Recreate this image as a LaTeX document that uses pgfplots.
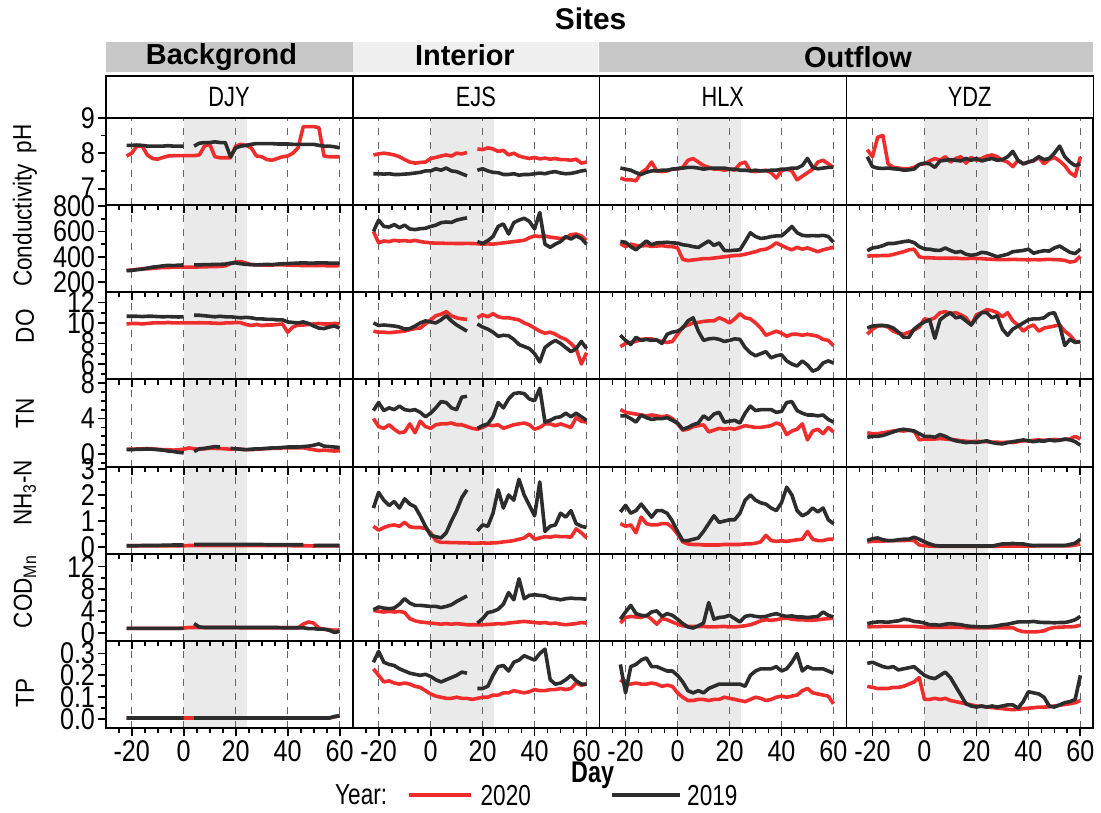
\documentclass[border=0pt]{standalone}
\usepackage{pgfplots}
\pgfplotsset{compat=1.18}
\usepackage{pgfplotstable}
\usepackage{fontspec}
\setmainfont{Liberation Sans}
\newfontfamily\narrow{Liberation Sans}[FakeStretch=0.78]
\newfontfamily\ticknarrow{Liberation Sans}[FakeStretch=0.84]
\newfontfamily\ylabfont{Liberation Sans}[FakeStretch=0.87]
\definecolor{r20}{RGB}{240,45,45}
\definecolor{k19}{RGB}{45,45,45}
\definecolor{band}{RGB}{234,234,234}
\definecolor{stripA}{RGB}{200,200,200}
\definecolor{stripB}{RGB}{240,240,240}

\pgfplotstableread{
x Da Db Ea Eb Ha Hb Ya Yb
-22 7.92 8.22 7.95 7.42 7.3 7.58 8.1 7.9
-20 8.0 8.22 7.98 7.42 7.25 7.55 7.9 7.62
-18 8.2 8.23 8.0 7.41 7.25 7.52 8.45 7.58
-16 8.2 8.22 7.98 7.42 7.22 7.45 8.5 7.57
-14 7.95 8.2 7.95 7.4 7.45 7.4 7.7 7.58
-12 7.85 8.2 7.9 7.4 7.55 7.46 7.6 7.56
-10 7.83 8.2 7.82 7.41 7.75 7.5 7.58 7.55
-8 7.88 8.2 7.75 7.42 7.5 7.5 7.56 7.52
-6 7.92 8.21 7.72 7.44 7.48 7.52 7.56 7.53
-4 7.93 8.2 7.74 7.46 7.5 7.52 7.6 7.55
-2 7.93 8.2 7.75 7.5 7.55 7.55 7.68 7.68
0 7.93 8.2 7.85 7.5 7.55 7.57 7.7 7.72
2 7.93 nan 7.88 7.56 7.6 7.58 7.78 7.7
4 7.93 8.2 7.92 7.52 7.8 7.6 7.85 7.6
6 7.95 8.28 7.95 7.58 7.85 7.6 7.8 7.78
8 8.2 8.3 7.92 7.5 7.75 7.58 7.9 7.8
10 8.25 8.3 8.0 7.48 7.65 7.55 7.75 7.82
12 7.9 8.32 7.98 7.42 7.6 7.57 7.85 7.8
14 7.87 8.3 8.02 7.36 7.55 7.58 7.9 7.78
16 7.87 8.3 nan nan 7.55 7.58 7.72 7.85
18 7.87 7.9 8.12 7.52 7.52 7.58 7.88 7.8
20 8.2 8.15 8.1 7.56 7.55 7.55 7.8 7.85
22 8.25 8.2 8.15 7.5 7.52 7.55 7.85 7.78
24 8.22 8.22 8.12 7.46 7.7 7.52 7.92 7.82
26 8.15 8.25 8.05 7.45 7.75 7.52 7.95 7.85
28 7.92 8.27 8.08 7.4 7.5 7.5 7.9 7.8
30 7.9 8.27 7.95 7.4 7.48 7.52 7.8 7.82
32 7.82 8.27 8.0 7.42 7.5 7.5 7.75 7.9
34 7.8 8.27 7.92 7.38 7.52 7.5 7.62 8.05
36 7.85 8.26 7.88 7.4 7.45 7.52 7.8 7.8
38 7.9 8.26 7.85 7.4 7.3 7.52 7.7 7.7
40 7.92 8.26 7.88 7.42 7.5 7.55 7.75 7.75
42 8.0 8.25 7.84 7.44 7.55 7.55 7.78 7.8
44 8.15 8.25 7.86 7.42 7.5 7.58 7.88 7.9
46 8.75 8.25 7.83 7.46 7.25 7.58 7.7 7.82
48 8.75 8.25 7.85 7.48 7.35 7.65 7.82 7.85
50 8.75 8.25 7.82 7.44 7.45 7.85 7.88 8.0
52 8.72 8.22 7.82 7.42 7.55 7.6 7.78 8.2
54 7.92 8.2 7.8 7.43 7.75 7.56 7.65 7.9
56 7.9 8.2 7.83 7.46 7.8 7.58 7.45 7.75
58 7.9 8.18 7.72 7.5 7.7 7.6 7.35 7.65
60 7.9 8.15 7.75 7.52 7.6 7.6 7.9 7.7
}\tpH

\pgfplotstableread{
x Da Db Ea Eb Ha Hb Ya Yb
-22 292 290 600 600 505 520 405 448
-20 295 292 510 690 480 515 408 470
-18 300 298 525 640 500 480 408 476
-16 305 302 520 635 490 455 410 488
-14 305 310 530 655 485 490 410 505
-12 308 318 525 630 490 525 418 505
-10 312 322 528 650 482 495 430 512
-8 315 328 522 620 485 510 440 520
-6 315 332 530 615 488 512 455 525
-4 318 330 520 622 482 515 460 512
-2 318 334 515 625 480 510 400 480
0 318 335 510 640 470 508 392 462
2 318 nan 508 650 380 495 392 460
4 318 336 508 670 370 490 390 452
6 320 336 506 675 375 480 388 450
8 320 338 506 672 380 474 390 470
10 322 338 505 690 385 500 388 450
12 322 340 505 700 385 525 390 435
14 325 340 506 708 390 490 386 442
16 328 342 505 nan 395 510 385 420
18 345 350 503 520 400 450 388 412
20 360 352 500 505 405 448 386 418
22 362 345 502 528 410 452 385 435
24 350 340 500 560 412 455 382 430
26 338 338 505 640 420 520 380 415
28 336 336 510 660 430 590 378 400
30 335 338 515 580 440 560 378 410
32 335 340 520 670 455 545 378 420
34 335 338 525 690 460 550 380 440
36 336 342 530 705 480 560 378 445
38 336 345 550 680 510 565 378 450
40 335 346 565 620 490 565 376 460
42 332 348 560 750 470 600 378 428
44 332 350 565 500 455 640 376 440
46 330 352 555 475 475 590 378 448
48 330 350 550 500 460 570 380 445
50 330 350 545 520 470 565 378 470
52 330 352 550 560 455 568 376 485
54 330 352 575 540 440 565 372 460
56 328 350 580 565 455 570 358 435
58 328 350 565 545 465 560 365 425
60 330 348 530 500 475 515 405 460
}\tCond

\pgfplotstableread{
x Da Db Ea Eb Ha Hb Ya Yb
-22 9.9 10.65 9.2 10.0 7.7 8.8 8.9 9.5
-20 9.95 10.65 9.1 9.75 8.0 8.3 9.4 9.7
-18 9.95 10.65 9.1 9.8 8.1 7.9 9.7 9.75
-16 9.9 10.62 9.05 9.75 8.2 8.6 9.75 9.75
-14 9.95 10.65 9.1 9.7 8.4 8.3 9.6 9.7
-12 10.0 10.65 9.15 9.6 8.45 8.4 9.2 9.5
-10 10.0 10.62 9.2 9.4 8.45 8.3 9.0 9.1
-8 10.0 10.6 9.35 9.45 8.3 8.35 8.9 8.6
-6 10.05 10.62 9.45 9.7 8.2 8.0 9.1 8.6
-4 10.0 10.6 9.5 10.0 8.1 8.9 9.3 9.4
-2 10.0 10.58 9.9 10.2 8.2 9.1 9.6 9.8
0 10.0 10.6 10.3 10.1 8.9 9.2 10.4 10.1
2 10.0 nan 10.7 10.0 9.6 9.5 10.3 10.3
4 10.0 10.75 10.85 10.3 9.8 10.2 10.5 8.5
6 10.02 10.75 11.1 10.7 10.0 10.5 11.0 10.3
8 10.0 10.7 10.7 10.2 10.05 9.2 11.1 10.7
10 10.0 10.65 10.5 9.8 10.15 8.3 10.9 11.0
12 9.98 10.6 10.4 9.5 10.2 8.45 11.0 10.5
14 9.95 10.65 10.35 9.2 10.2 8.5 10.8 10.6
16 10.0 10.6 nan nan 10.5 8.4 10.5 10.2
18 10.0 10.6 10.5 9.9 10.3 8.2 9.8 9.8
20 10.05 10.55 10.8 9.6 10.0 8.3 10.8 10.5
22 10.02 10.5 10.6 9.4 10.4 8.45 11.0 11.0
24 9.85 10.55 10.9 9.1 10.9 8.4 11.3 11.0
26 9.75 10.5 10.6 8.7 10.5 7.6 11.2 10.5
28 9.85 10.4 10.5 8.8 10.4 7.1 11.0 10.7
30 9.75 10.4 10.5 8.75 10.0 6.8 10.6 9.4
32 9.8 10.35 10.4 8.4 9.5 7.0 11.0 8.8
34 9.8 10.35 10.3 7.9 8.8 7.2 10.2 9.4
36 9.85 10.3 10.0 7.7 9.0 6.6 9.8 9.7
38 9.9 10.3 9.8 7.5 9.2 6.8 9.2 10.0
40 9.1 10.1 9.5 7.0 9.0 6.9 9.6 10.3
42 9.6 10.05 9.2 6.2 8.7 6.3 9.8 10.4
44 9.8 10.0 9.0 7.6 8.9 6.0 9.2 10.4
46 9.8 10.1 9.1 8.0 8.9 5.8 9.5 10.5
48 9.85 9.95 8.9 8.3 8.8 6.3 9.6 10.9
50 9.9 9.7 8.6 8.0 8.9 5.9 9.7 11.0
52 9.95 9.5 8.4 7.6 8.8 5.3 9.8 9.8
54 9.9 9.45 8.0 7.2 8.7 5.5 9.2 7.8
56 9.9 9.6 7.5 7.5 8.4 6.1 8.8 8.4
58 9.95 9.7 6.0 8.2 8.3 6.3 8.2 8.1
60 9.9 9.5 7.1 7.5 7.8 6.1 8.1 8.2
}\tDO

\pgfplotstableread{
x Da Db Ea Eb Ha Hb Ya Yb
-22 0.55 0.5 4.0 4.9 5.0 4.3 2.4 1.9
-20 0.55 0.5 3.1 5.8 4.7 4.3 2.3 2.0
-18 0.58 0.55 2.9 4.9 4.6 4.0 2.3 2.0
-16 0.6 0.55 3.3 5.2 4.5 3.6 2.4 2.1
-14 0.62 0.58 2.8 5.0 4.4 4.4 2.5 2.3
-12 0.6 0.55 2.4 5.4 4.3 4.1 2.6 2.5
-10 0.55 0.5 2.5 5.0 4.4 3.9 2.65 2.7
-8 0.5 0.45 3.4 4.9 4.3 4.0 2.6 2.8
-6 0.5 0.35 2.4 5.0 4.2 4.0 2.7 2.7
-4 0.45 0.3 3.7 4.7 4.3 4.1 2.6 2.6
-2 0.5 0.2 3.1 4.2 4.0 3.8 1.6 2.3
0 0.55 0.15 2.9 4.6 3.4 3.5 1.7 2.0
2 0.7 nan 3.3 5.2 2.7 2.8 1.7 2.0
4 0.6 0.3 3.4 5.9 2.8 3.0 1.7 1.9
6 0.55 0.6 3.4 5.8 3.1 3.3 1.75 2.2
8 0.6 0.65 3.5 5.2 3.2 3.5 1.7 2.0
10 0.65 0.75 3.3 5.0 3.3 4.3 1.65 1.7
12 0.65 0.85 3.3 6.4 2.5 3.9 1.6 1.5
14 0.62 0.8 3.1 6.5 2.7 4.5 1.5 1.4
16 0.6 nan 2.9 nan 2.9 4.7 1.45 1.3
18 0.55 0.65 2.8 2.9 2.8 3.6 1.4 1.35
20 0.6 0.6 3.0 3.2 2.9 3.7 1.45 1.3
22 0.55 0.55 3.3 3.4 2.8 3.8 1.4 1.4
24 0.5 0.5 3.2 4.2 3.0 3.5 1.4 1.5
26 0.5 0.55 3.3 5.8 3.2 4.6 1.35 1.3
28 0.55 0.6 2.9 5.2 3.1 5.4 1.35 1.2
30 0.6 0.6 3.1 6.2 3.0 4.9 1.3 1.15
32 0.62 0.65 3.3 6.8 3.0 5.0 1.35 1.3
34 0.65 0.7 3.4 6.9 3.1 5.0 1.3 1.4
36 0.65 0.7 3.5 6.8 3.2 5.0 1.4 1.5
38 0.7 0.75 3.3 6.2 3.5 4.7 1.5 1.6
40 0.7 0.8 2.8 6.0 3.3 4.8 1.5 1.5
42 0.72 0.8 3.0 7.4 2.2 5.8 1.55 1.4
44 0.7 0.8 3.4 3.6 2.6 5.9 1.6 1.5
46 0.72 0.85 3.4 3.8 2.8 4.9 1.55 1.45
48 0.6 0.9 3.2 4.1 3.4 4.6 1.6 1.6
50 0.5 1.0 3.4 4.2 1.6 4.4 1.65 1.5
52 0.4 1.15 3.2 4.6 2.6 4.4 1.6 1.55
54 0.45 0.9 3.0 4.2 2.8 4.3 1.65 1.7
56 0.4 0.85 4.1 4.6 2.3 4.4 1.7 1.6
58 0.35 0.8 3.7 4.2 3.0 3.9 2.0 1.4
60 0.4 0.75 3.6 3.8 2.5 3.6 1.7 1.0
}\tTN

\pgfplotstableread{
x Da Db Ea Eb Ha Hb Ya Yb
-22 0.05 0.05 0.8 1.5 0.9 1.35 0.2 0.25
-20 0.05 0.05 0.65 2.1 0.8 1.6 0.22 0.32
-18 0.05 0.05 0.75 1.8 0.85 1.3 0.22 0.35
-16 0.05 0.06 0.82 1.6 0.55 1.4 0.23 0.28
-14 0.05 0.06 0.85 1.75 1.15 1.65 0.24 0.25
-12 0.05 0.06 0.8 1.5 0.9 1.4 0.25 0.25
-10 0.05 0.06 0.95 1.85 0.85 1.15 0.25 0.28
-8 0.05 0.07 0.78 1.65 0.85 1.4 0.25 0.3
-6 0.05 0.07 0.75 1.55 0.9 1.4 0.26 0.3
-4 0.05 0.08 0.75 1.2 0.9 1.3 0.25 0.38
-2 0.05 0.08 0.72 0.8 0.75 1.0 0.08 0.3
0 0.05 0.08 0.55 0.45 0.5 0.6 0.05 0.2
2 0.06 nan 0.25 0.4 0.2 0.25 0.04 0.12
4 0.06 0.1 0.18 0.35 0.12 0.25 0.03 0.06
6 0.06 0.1 0.18 0.55 0.1 0.3 0.03 0.04
8 0.06 0.1 0.17 1.0 0.1 0.35 0.03 0.04
10 0.06 0.1 0.17 1.4 0.08 0.6 0.03 0.04
12 0.06 0.1 0.16 1.9 0.08 0.9 0.03 0.04
14 0.06 0.1 0.16 2.2 0.08 1.2 0.03 0.04
16 0.06 0.1 0.15 nan 0.08 0.95 0.03 0.04
18 0.06 0.1 0.15 0.62 0.1 1.0 0.03 0.04
20 0.06 0.1 0.16 0.85 0.1 1.05 0.03 0.04
22 0.06 0.1 0.15 0.8 0.1 1.05 0.03 0.04
24 0.06 0.1 0.16 1.3 0.1 1.3 0.03 0.04
26 0.06 0.1 0.17 2.2 0.12 1.8 0.03 0.04
28 0.06 0.1 0.2 1.5 0.12 2.0 0.03 0.08
30 0.06 0.1 0.22 2.0 0.15 1.8 0.04 0.12
32 0.06 0.09 0.25 1.8 0.2 1.7 0.04 0.12
34 0.06 0.09 0.3 2.6 0.45 1.65 0.04 0.14
36 0.06 0.09 0.35 2.0 0.25 1.5 0.04 0.12
38 0.06 0.09 0.5 1.6 0.22 1.4 0.04 0.12
40 0.06 0.09 0.3 1.2 0.24 1.7 0.04 0.08
42 0.05 0.09 0.35 2.5 0.22 2.3 0.04 0.06
44 0.05 0.09 0.4 0.6 0.25 2.0 0.05 0.06
46 0.05 0.09 0.38 0.8 0.28 1.4 0.05 0.06
48 0.05 nan 0.42 0.85 0.3 1.2 0.05 0.06
50 0.04 0.06 0.4 1.3 0.6 1.3 0.05 0.06
52 0.05 0.06 0.4 1.15 0.3 1.5 0.05 0.06
54 0.05 0.06 0.38 1.4 0.25 1.35 0.05 0.06
56 0.05 0.06 0.7 0.9 0.25 1.5 0.05 0.1
58 0.05 0.06 0.55 0.8 0.3 1.05 0.08 0.15
60 0.05 0.06 0.35 0.75 0.3 0.9 0.12 0.3
}\tNH

\pgfplotstableread{
x Da Db Ea Eb Ha Hb Ya Yb
-22 0.85 0.85 4.1 4.2 1.8 2.5 1.1 1.7
-20 0.85 0.85 3.9 4.7 2.8 3.8 1.15 1.9
-18 0.85 0.85 3.8 4.5 3.0 5.0 1.15 2.0
-16 0.85 0.85 3.9 4.4 2.9 3.5 1.2 2.0
-14 0.85 0.85 3.8 4.5 2.8 3.2 1.2 1.95
-12 0.85 0.85 3.9 5.2 3.2 3.1 1.2 2.1
-10 0.85 0.85 3.7 6.2 2.5 3.8 1.2 2.2
-8 0.85 0.85 2.6 5.4 1.6 4.0 1.2 2.5
-6 0.85 0.85 2.2 5.0 2.6 3.0 1.2 2.4
-4 0.85 0.85 2.0 5.0 2.4 3.5 1.2 2.1
-2 0.85 0.85 1.9 4.9 2.0 3.2 1.1 2.0
0 0.9 0.85 1.8 4.8 1.6 2.5 1.05 1.8
2 1.0 nan 1.7 4.8 1.3 1.7 1.05 1.5
4 1.0 1.7 1.6 4.6 1.2 1.1 1.05 1.5
6 1.0 1.1 1.7 4.8 1.2 0.9 1.05 1.4
8 1.0 1.0 1.6 5.1 1.15 1.3 1.05 1.6
10 1.0 1.0 1.7 5.7 1.2 1.8 1.05 1.7
12 1.0 1.0 1.6 6.2 1.1 5.5 1.05 1.6
14 1.0 1.0 1.5 6.7 1.1 2.5 1.05 1.5
16 1.0 1.0 1.5 nan 1.15 2.8 0.95 1.3
18 1.0 1.0 1.5 1.8 1.2 2.9 0.95 1.2
20 1.0 1.0 1.5 2.6 1.1 3.2 0.95 1.15
22 0.95 1.0 1.55 3.7 1.1 2.6 0.95 1.1
24 0.95 1.0 1.6 3.9 1.2 2.0 0.95 1.1
26 0.95 1.0 1.7 4.3 1.3 3.0 0.95 1.2
28 0.95 1.0 1.65 5.2 1.5 3.2 0.95 1.3
30 0.95 1.0 1.8 7.3 1.8 3.0 0.95 1.5
32 0.95 1.0 1.9 6.0 2.2 2.9 0.95 1.6
34 0.95 1.0 2.0 9.8 2.4 3.0 0.95 1.8
36 0.95 1.0 2.1 6.2 2.3 3.3 0.5 2.0
38 0.95 0.95 2.0 6.8 2.4 3.5 0.25 2.0
40 0.95 0.95 1.9 6.9 2.6 3.2 0.2 2.0
42 0.95 0.95 1.8 6.8 2.7 3.0 0.2 2.1
44 0.95 0.95 1.9 6.7 2.5 3.1 0.25 1.95
46 1.6 0.95 1.7 6.3 2.4 2.9 0.4 1.9
48 2.0 0.8 1.8 6.2 2.4 2.9 0.8 1.9
50 1.8 0.8 1.6 6.0 2.3 2.8 1.0 1.85
52 0.9 0.7 1.5 6.2 2.3 2.9 1.05 1.9
54 0.7 0.7 1.6 6.3 2.4 3.0 1.1 1.9
56 0.6 0.5 1.7 6.2 2.5 3.8 1.1 2.1
58 0.5 0.1 1.9 6.2 2.6 3.2 1.2 2.4
60 0.55 0.3 1.8 6.1 2.7 2.9 1.4 3.0
}\tCOD

\pgfplotstableread{
x Da Db Ea Eb Ha Hb Ya Yb
-22 0.005 0.005 0.23 0.26 0.18 0.25 0.15 0.255
-20 0.005 0.005 0.2 0.31 0.16 0.12 0.145 0.26
-18 0.005 0.005 0.17 0.26 0.16 0.24 0.14 0.25
-16 0.005 0.005 0.175 0.25 0.165 0.25 0.14 0.24
-14 0.005 0.005 0.165 0.245 0.16 0.27 0.14 0.235
-12 0.005 0.005 0.16 0.23 0.16 0.28 0.145 0.24
-10 0.005 0.005 0.165 0.22 0.165 0.24 0.145 0.225
-8 0.005 0.005 0.16 0.21 0.16 0.24 0.15 0.23
-6 0.005 0.005 0.15 0.205 0.15 0.23 0.16 0.235
-4 0.005 0.005 0.145 0.2 0.155 0.22 0.17 0.24
-2 0.005 0.005 0.13 0.205 0.15 0.22 0.19 0.22
0 0.005 0.005 0.115 0.195 0.12 0.2 0.09 0.2
2 0.005 nan 0.105 0.18 0.1 0.17 0.09 0.19
4 0.005 0.005 0.1 0.17 0.085 0.13 0.095 0.185
6 0.005 0.005 0.095 0.18 0.085 0.12 0.09 0.2
8 0.005 0.005 0.095 0.19 0.09 0.13 0.095 0.215
10 0.005 0.005 0.1 0.2 0.09 0.12 0.085 0.19
12 0.005 0.005 0.095 0.215 0.085 0.14 0.08 0.15
14 0.005 0.005 0.095 0.21 0.09 0.15 0.075 0.11
16 0.005 0.005 0.09 nan 0.09 0.16 0.07 0.07
18 0.005 0.005 0.095 0.14 0.1 0.16 0.065 0.06
20 0.005 0.005 0.1 0.14 0.095 0.16 0.06 0.055
22 0.005 0.005 0.1 0.15 0.09 0.16 0.058 0.06
24 0.005 0.005 0.11 0.2 0.085 0.16 0.055 0.055
26 0.005 0.005 0.11 0.24 0.08 0.15 0.053 0.06
28 0.005 0.005 0.12 0.245 0.09 0.2 0.05 0.055
30 0.005 0.005 0.12 0.22 0.1 0.22 0.048 0.06
32 0.005 0.005 0.13 0.26 0.095 0.23 0.045 0.065
34 0.005 0.005 0.125 0.27 0.085 0.23 0.043 0.065
36 0.005 0.005 0.12 0.29 0.09 0.23 0.045 0.05
38 0.005 0.005 0.125 0.28 0.1 0.24 0.048 0.08
40 0.005 0.005 0.135 0.27 0.105 0.22 0.05 0.125
42 0.005 0.005 0.13 0.3 0.1 0.23 0.052 0.12
44 0.005 0.005 0.13 0.32 0.105 0.26 0.055 0.115
46 0.005 0.005 0.135 0.18 0.11 0.3 0.055 0.1
48 0.005 0.005 0.135 0.16 0.13 0.22 0.056 0.06
50 0.005 0.005 0.14 0.165 0.14 0.24 0.06 0.055
52 0.005 0.005 0.135 0.18 0.12 0.23 0.063 0.065
54 0.005 0.005 0.14 0.2 0.115 0.23 0.067 0.075
56 0.005 0.005 0.165 0.175 0.11 0.23 0.07 0.08
58 0.01 0.012 0.155 0.16 0.105 0.22 0.075 0.09
60 0.015 0.015 0.16 0.16 0.07 0.21 0.085 0.2
}\tTP

\pgfplotsset{
  panel/.style={
    scale only axis, width=123.75pt, height=43.714pt,
    xmin=-30, xmax=65,
    xtick={-20,0,20,40,60},
    minor xtick={-25,-15,-10,-5,5,10,15,25,30,35,45,50,55},
    xticklabels={},
    xtick pos=left, ytick pos=left,
    tick align=outside,
    major tick length=4pt, minor tick length=2.6pt,
    tick style={black, line width=0.9pt},
    axis line style={line width=0.9pt},
    xmajorgrids,
    major grid style={dash pattern=on 3.5pt off 3.5pt, line width=0.6pt, black!60},
    unbounded coords=jump,
    set layers,
    tick label style={font=\ticknarrow\fontsize{15}{15}\selectfont},
    yticklabel style={inner xsep=1.2pt},
    xticklabel style={inner ysep=2pt},
  },
  noyt/.style={ytick=\empty},
  xlab/.style={xticklabels={-20,0,20,40,60}},
  rowpH/.style={ymin=6.54, ymax=9},
  ytpH/.style={ytick={7,8,9}, yticklabels={7,8,9}, minor ytick={7.5,8.5}},
  rowCo/.style={ymin=120, ymax=810},
  ytCo/.style={ytick={200,400,600,800}, yticklabels={200,400,600,800}, minor ytick={300,500,700}},
  rowDO/.style={ymin=4.5, ymax=13},
  ytDO/.style={ytick={6,8,10,12}, yticklabels={6,8,10,12}, minor ytick={5,7,9,11}},
  rowTN/.style={ymin=-1.4, ymax=8.4},
  ytTN/.style={ytick={0,4,8}, yticklabels={0,4,8}, minor ytick={-1,1,2,3,5,6,7}},
  rowNH/.style={ymin=-0.26, ymax=3.09},
  ytNH/.style={ytick={0,1,2,3}, yticklabels={0,1,2,3}, minor ytick={0.5,1.5,2.5}},
  rowCD/.style={ymin=-1.45, ymax=14.3},
  ytCD/.style={ytick={0,4,8,12}, yticklabels={0,4,8,12}, minor ytick={2,6,10}},
  rowTP/.style={ymin=-0.042, ymax=0.357},
  ytTP/.style={ytick={0,0.1,0.2,0.3}, yticklabels={0.0,0.1,0.2,0.3}, minor ytick={0.05,0.15,0.25}},
}

% #1 col, #2 row, #3 options, #4 table, #5 site, #6 band low, #7 band high
\newcommand{\panel}[7]{%
  \begin{axis}[panel, #3, at={({53pt+123.75pt*#1},{-59pt-43.714pt*#2})}, anchor=north west]
    \addplot[on layer=axis background, fill=band, draw=none, forget plot]
      coordinates {(0,#6) (24.5,#6) (24.5,#7) (0,#7)};
    \addplot[r20, line width=1.8pt, line join=round] table[x=x, y=#5a] {#4};
    \addplot[k19, line width=1.8pt, line join=round] table[x=x, y=#5b] {#4};
  \end{axis}}

\begin{document}
\begin{tikzpicture}
\path (0pt,0pt) rectangle (550.5pt,-406pt);

\panel{0}{0}{rowpH,ytpH}{\tpH}{D}{6.54}{9}
\panel{1}{0}{rowpH,noyt}{\tpH}{E}{6.54}{9}
\panel{2}{0}{rowpH,noyt}{\tpH}{H}{6.54}{9}
\panel{3}{0}{rowpH,noyt}{\tpH}{Y}{6.54}{9}

\panel{0}{1}{rowCo,ytCo}{\tCond}{D}{120}{810}
\panel{1}{1}{rowCo,noyt}{\tCond}{E}{120}{810}
\panel{2}{1}{rowCo,noyt}{\tCond}{H}{120}{810}
\panel{3}{1}{rowCo,noyt}{\tCond}{Y}{120}{810}

\panel{0}{2}{rowDO,ytDO}{\tDO}{D}{4.5}{13}
\panel{1}{2}{rowDO,noyt}{\tDO}{E}{4.5}{13}
\panel{2}{2}{rowDO,noyt}{\tDO}{H}{4.5}{13}
\panel{3}{2}{rowDO,noyt}{\tDO}{Y}{4.5}{13}

\panel{0}{3}{rowTN,ytTN}{\tTN}{D}{-1.4}{8.4}
\panel{1}{3}{rowTN,noyt}{\tTN}{E}{-1.4}{8.4}
\panel{2}{3}{rowTN,noyt}{\tTN}{H}{-1.4}{8.4}
\panel{3}{3}{rowTN,noyt}{\tTN}{Y}{-1.4}{8.4}

\panel{0}{4}{rowNH,ytNH}{\tNH}{D}{-0.26}{3.09}
\panel{1}{4}{rowNH,noyt}{\tNH}{E}{-0.26}{3.09}
\panel{2}{4}{rowNH,noyt}{\tNH}{H}{-0.26}{3.09}
\panel{3}{4}{rowNH,noyt}{\tNH}{Y}{-0.26}{3.09}

\panel{0}{5}{rowCD,ytCD}{\tCOD}{D}{-1.45}{14.3}
\panel{1}{5}{rowCD,noyt}{\tCOD}{E}{-1.45}{14.3}
\panel{2}{5}{rowCD,noyt}{\tCOD}{H}{-1.45}{14.3}
\panel{3}{5}{rowCD,noyt}{\tCOD}{Y}{-1.45}{14.3}

\panel{0}{6}{rowTP,ytTP,xlab}{\tTP}{D}{-0.042}{0.357}
\panel{1}{6}{rowTP,noyt,xlab}{\tTP}{E}{-0.042}{0.357}
\panel{2}{6}{rowTP,noyt,xlab}{\tTP}{H}{-0.042}{0.357}
\panel{3}{6}{rowTP,noyt,xlab}{\tTP}{Y}{-0.042}{0.357}

\begin{scope}[x=0.5pt, y=-0.5pt]
  \fill[stripA] (106,41.7) rectangle (353.5,71.7);
  \fill[stripB] (353.5,41.7) rectangle (599,71.7);
  \fill[stripA] (600,41.7) rectangle (1096,71.7);
  \node[font=\bfseries\fontsize{15}{15}\selectfont] at (592,19) {Sites};
  \node[font=\bfseries\fontsize{14.5}{14.5}\selectfont] at (222,57) {Backgrond};
  \node[font=\bfseries\fontsize{14.5}{14.5}\selectfont] at (466,55) {Interior};
  \node[font=\bfseries\fontsize{14.5}{14.5}\selectfont] at (860,57) {Outflow};
  \draw[line width=0.9pt] (106,76) rectangle (353.5,118);
  \draw[line width=0.9pt] (353.5,76) rectangle (601,118);
  \draw[line width=0.9pt] (601,76) rectangle (848.5,118);
  \draw[line width=0.9pt] (848.5,76) rectangle (1096,118);
  \node[font=\narrow\fontsize{14}{14}\selectfont] at (229.5,97) {DJY};
  \node[font=\narrow\fontsize{14}{14}\selectfont] at (477,97) {EJS};
  \node[font=\narrow\fontsize{14}{14}\selectfont] at (724.5,97) {HLX};
  \node[font=\narrow\fontsize{14}{14}\selectfont] at (972,97) {YDZ};
  \node[rotate=90, font=\ylabfont\fontsize{13}{13}\selectfont] at (25,139) {pH};
  \node[rotate=90, font=\ylabfont\fontsize{13}{13}\selectfont] at (25,226) {Conductivity};
  \node[rotate=90, font=\ylabfont\fontsize{13}{13}\selectfont] at (25,327) {DO};
  \node[rotate=90, font=\ylabfont\fontsize{13}{13}\selectfont] at (25,414) {TN};
  \node[rotate=90, font=\ylabfont\fontsize{13}{13}\selectfont] at (25,494) {NH\textsubscript{3}-N};
  \node[rotate=90, font=\ylabfont\fontsize{13}{13}\selectfont] at (25,593) {COD\textsubscript{Mn}};
  \node[rotate=90, font=\ylabfont\fontsize{13}{13}\selectfont] at (25,695) {TP};
  \node[font=\narrow\bfseries\fontsize{15}{15}\selectfont] at (594,777) {Day};
  \node[font=\narrow\fontsize{14.5}{14.5}\selectfont] at (362,797) {Year:};
  \draw[r20, line width=2pt] (410,797) -- (472,797);
  \node[font=\narrow\fontsize{14.5}{14.5}\selectfont] at (507,797) {2020};
  \draw[k19, line width=2pt] (613,797) -- (682,797);
  \node[font=\narrow\fontsize{14.5}{14.5}\selectfont] at (714,797) {2019};
\end{scope}
\end{tikzpicture}
\end{document}
